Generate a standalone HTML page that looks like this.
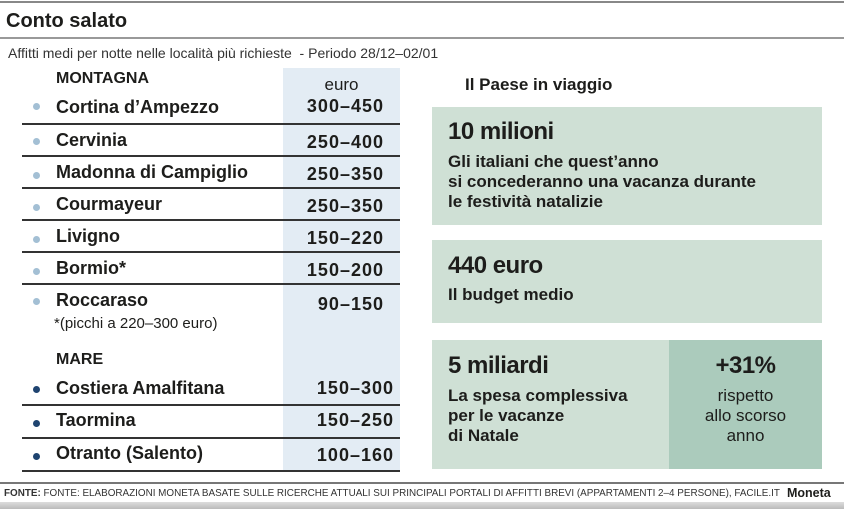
<!DOCTYPE html>
<html><head><meta charset="utf-8"><style>
*{margin:0;padding:0;box-sizing:border-box}
body{width:844px;height:509px;background:#fff;position:relative;overflow:hidden;font-family:"Liberation Sans",sans-serif;color:#1d1d1b}
.a{position:absolute;white-space:nowrap}
.hl{position:absolute;left:22px;width:378px;height:1.5px;background:#333}
.n{font-weight:bold;font-size:18px;left:56px}
.v{font-weight:bold;font-size:18px;letter-spacing:1px;text-align:right;width:130px;left:254px}
.m{left:264px}
.d{position:absolute;left:33px;width:7px;height:7px;border-radius:50%}
.lb{background:#a3bfd4}.db{background:#1f4470}
.box{position:absolute;background:#cfe0d5}
.big{font-size:24px;font-weight:900;letter-spacing:-0.5px}
.t{font-size:17px;font-weight:bold;line-height:20px}
</style></head><body>
<div class="a" style="left:0;top:1px;width:844px;height:2px;background:#888"></div>
<div class="a" style="left:6px;top:10px;font-size:20px;font-weight:bold">Conto salato</div>
<div class="a" style="left:0;top:37px;width:844px;height:2px;background:#999"></div>
<div class="a" style="left:8px;top:45px;font-size:14px;color:#333">Affitti medi per notte nelle località più richieste &nbsp;- Periodo 28/12–02/01</div>
<div class="a" style="left:283px;top:68px;width:117px;height:403px;background:#e3ecf4"></div>
<div class="a" style="left:56px;top:70px;font-size:16px;font-weight:bold">MONTAGNA</div>
<div class="a" style="left:283px;top:75px;width:117px;text-align:center;font-size:17px">euro</div>

<div class="d lb" style="top:103px"></div><div class="a n" style="top:97px">Cortina d’Ampezzo</div><div class="a v" style="top:96px">300–450</div>
<div class="hl" style="top:123px"></div>
<div class="d lb" style="top:138px"></div><div class="a n" style="top:130px">Cervinia</div><div class="a v" style="top:132px">250–400</div>
<div class="hl" style="top:155px"></div>
<div class="d lb" style="top:172px"></div><div class="a n" style="top:162px">Madonna di Campiglio</div><div class="a v" style="top:164px">250–350</div>
<div class="hl" style="top:187px"></div>
<div class="d lb" style="top:204px"></div><div class="a n" style="top:194px">Courmayeur</div><div class="a v" style="top:196px">250–350</div>
<div class="hl" style="top:219px"></div>
<div class="d lb" style="top:236px"></div><div class="a n" style="top:226px">Livigno</div><div class="a v" style="top:228px">150–220</div>
<div class="hl" style="top:251px"></div>
<div class="d lb" style="top:268px"></div><div class="a n" style="top:258px">Bormio*</div><div class="a v" style="top:260px">150–200</div>
<div class="hl" style="top:283px"></div>
<div class="d lb" style="top:298px"></div><div class="a n" style="top:290px">Roccaraso</div><div class="a v" style="top:294px">90–150</div>
<div class="a" style="left:54px;top:315px;font-size:15px">*(picchi a 220–300 euro)</div>
<div class="a" style="left:56px;top:351px;font-size:16px;font-weight:bold">MARE</div>
<div class="d db" style="top:386px"></div><div class="a n" style="top:378px">Costiera Amalfitana</div><div class="a v m" style="top:378px">150–300</div>
<div class="hl" style="top:404px"></div>
<div class="d db" style="top:420px"></div><div class="a n" style="top:410px">Taormina</div><div class="a v m" style="top:410px">150–250</div>
<div class="hl" style="top:437px"></div>
<div class="d db" style="top:453px"></div><div class="a n" style="top:443px">Otranto (Salento)</div><div class="a v m" style="top:445px">100–160</div>
<div class="hl" style="top:470px"></div>

<div class="a" style="left:465px;top:75px;font-size:17px;font-weight:bold">Il Paese in viaggio</div>
<div class="box" style="left:432px;top:107px;width:390px;height:118px"></div>
<div class="a big" style="left:448px;top:118px">10 milioni</div>
<div class="a t" style="left:448px;top:152px">Gli italiani che quest’anno<br>si concederanno una vacanza durante<br>le festività natalizie</div>
<div class="box" style="left:432px;top:240px;width:390px;height:83px"></div>
<div class="a big" style="left:448px;top:252px">440 euro</div>
<div class="a t" style="left:448px;top:285px">Il budget medio</div>
<div class="box" style="left:432px;top:340px;width:238px;height:129px"></div>
<div class="box" style="left:669px;top:340px;width:153px;height:129px;background:#abcbbc"></div>
<div class="a big" style="left:448px;top:352px">5 miliardi</div>
<div class="a t" style="left:448px;top:386px">La spesa complessiva<br>per le vacanze<br>di Natale</div>
<div class="a big" style="left:669px;top:352px;width:153px;text-align:center">+31%</div>
<div class="a" style="left:669px;top:386px;width:153px;text-align:center;font-size:17px;line-height:20px">rispetto<br>allo scorso<br>anno</div>

<div class="a" style="left:0;top:482px;width:844px;height:1.5px;background:#777"></div>
<div class="a" style="left:4px;top:488px;font-size:9.9px;color:#333"><b>FONTE:</b> FONTE: ELABORAZIONI MONETA BASATE SULLE RICERCHE ATTUALI SUI PRINCIPALI PORTALI DI AFFITTI BREVI (APPARTAMENTI 2–4 PERSONE), FACILE.IT</div>
<div class="a" style="left:787px;top:486px;font-size:12.5px;font-weight:bold">Moneta</div>
<div class="a" style="left:0;top:502px;width:844px;height:7px;background:linear-gradient(#ddd,#bbb)"></div>
</body></html>
